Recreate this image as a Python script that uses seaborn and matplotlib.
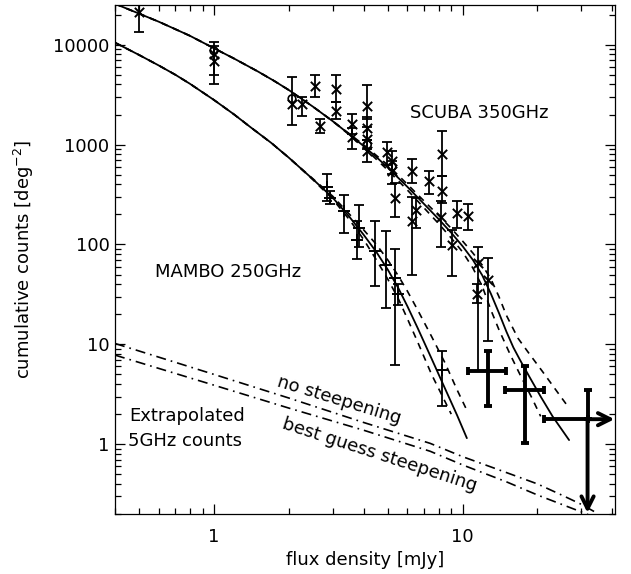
import matplotlib
matplotlib.use("Agg")
import matplotlib.pyplot as plt
import seaborn as sns

# model curves (cumulative counts vs flux density)
scuba_mod_x = [0.4, 0.5, 0.6, 0.7, 0.8, 1.0, 1.2, 1.5, 1.75, 2.0, 2.5, 3.0, 3.5, 4.0, 4.5, 5.0,
               6.0, 7.0, 8.0, 9.0, 10.0, 11.0, 12.0, 13.0, 14.0, 15.0, 16.0, 17.0, 18.5, 20.6,
               23.0, 26.8]
scuba_mod_y = [25700, 20500, 17000, 14300, 12300, 9220, 7310, 5410, 4330, 3520, 2400, 1720,
               1270, 966, 750, 589, 377, 254, 180, 131, 96, 70, 49, 32, 20.6, 13.4, 9.3, 7.0,
               4.8, 3.0, 1.9, 1.1]
scuba_hi_x = [0.4, 0.5, 0.6, 0.7, 0.8, 1.0, 1.2, 1.5, 1.75, 2.0, 2.5, 3.0, 3.5, 4.0, 5.0, 6.0,
              7.0, 8.0, 9.0, 10.0, 11.0, 12.0, 13.0, 14.0, 15.0, 16.7, 18.5, 21.0, 24.0, 26.8]
scuba_hi_y = [25700, 20500, 17000, 14300, 12300, 9220, 7310, 5410, 4330, 3520, 2400, 1725,
              1285, 995, 625, 400, 272, 196, 145, 108, 82, 62, 45, 30, 19.5, 11.5, 8.1, 5.3,
              3.35, 2.3]
scuba_lo_x = [0.4, 0.5, 0.6, 0.7, 0.8, 1.0, 1.2, 1.5, 1.75, 2.0, 2.5, 3.0, 3.5, 4.0, 5.0, 6.0,
              7.0, 8.0, 9.0, 10.0, 11.0, 12.0, 13.0, 14.0, 15.5, 17.0, 19.0, 20.6]
scuba_lo_y = [25700, 20500, 17000, 14300, 12300, 9220, 7310, 5410, 4330, 3520, 2400, 1715,
              1255, 940, 555, 350, 232, 162, 116, 84, 58, 38, 22, 14, 8.0, 5.0, 2.9, 1.9]

mambo_mod_x = [0.4, 0.5, 0.6, 0.7, 0.8, 1.0, 1.2, 1.4, 1.7, 2.0, 2.5, 3.0, 3.5, 4.0, 4.5, 5.0,
               5.5, 6.0, 6.6, 7.5, 8.5, 9.5, 10.4]
mambo_mod_y = [10500, 7900, 6200, 5000, 4070, 2800, 2020, 1500, 1040, 740, 450, 295, 190, 125,
               84, 56, 37, 24, 14.5, 7.2, 3.6, 1.95, 1.15]
mambo_hi_x = [0.4, 0.5, 0.6, 0.7, 0.8, 1.0, 1.2, 1.4, 1.7, 2.0, 2.5, 3.0, 3.5, 4.0, 4.5, 5.0,
              5.5, 6.0, 6.6, 7.5, 8.5, 9.5, 10.3]
mambo_hi_y = [10500, 7900, 6200, 5000, 4070, 2800, 2020, 1500, 1040, 740, 455, 305, 202, 140,
              100, 70, 49, 34, 22, 12, 6.5, 3.5, 2.3]
mambo_lo_x = [0.4, 0.5, 0.6, 0.7, 0.8, 1.0, 1.2, 1.4, 1.7, 2.0, 2.5, 3.0, 3.5, 4.0, 4.5, 5.0,
              5.5, 6.0, 6.6, 7.5, 8.2, 9.0]
mambo_lo_y = [10500, 7900, 6200, 5000, 4070, 2800, 2020, 1500, 1040, 740, 445, 285, 178, 112,
              70, 45, 29, 18, 10.5, 5.0, 3.2, 2.0]

# extrapolated 5GHz counts
radio_x = [0.4, 1.0, 2.0, 4.0, 7.4, 10.0, 15.0, 20.0, 25.0, 30.0, 34.0]
nosteep_y = [10.2, 5.0, 2.9, 1.65, 1.02, 0.75, 0.52, 0.40, 0.31, 0.25, 0.21]
bestguess_y = [7.8, 3.9, 2.3, 1.38, 0.85, 0.62, 0.42, 0.31, 0.25, 0.21, 0.185]

# SCUBA data points
scuba_x = [0.5, 1.0, 1.0, 2.06, 2.26, 2.55, 2.68, 3.1, 3.1, 3.6, 3.6, 4.14, 4.14, 4.14, 4.14,
           4.98, 5.2, 5.2, 5.37, 6.28, 6.28, 6.5, 7.3, 8.3, 8.3, 8.15, 9.46, 10.5, 9.1, 11.5,
           11.4, 12.6]
scuba_y = [21400, 8100, 6900, 2570, 2570, 3900, 1550, 3630, 2190, 1620, 1200, 2450, 1450, 1150,
           870, 850, 680, 540, 290, 550, 170, 220, 435, 810, 340, 190, 205, 195, 98, 65, 32, 44]
scuba_hi = [25700, 10700, 9800, 4800, 3000, 5000, 1820, 5000, 2700, 2040, 1450, 3980, 1900,
            1500, 1100, 1070, 870, 680, 410, 720, 300, 290, 550, 1380, 480, 275, 270, 255, 138,
            95, 40, 74]
scuba_lo = [13500, 5000, 4000, 1580, 1950, 3020, 1320, 2690, 1820, 1290, 910, 1820, 1100, 900,
            675, 620, 510, 400, 190, 410, 49, 145, 320, 480, 260, 95, 145, 138, 48, 5.4, 26, 10.7]
circ_x = [1.0, 2.06, 4.14, 5.2]
circ_y = [8700, 2880, 1000, 600]

# MAMBO data points
mambo_x = [2.86, 2.93, 3.34, 3.84, 3.77, 4.45, 4.94, 5.36, 5.5, 8.3]
mambo_y = [380, 295, 215, 145, 110, 87, 62, 46, 32, 5.5]
mambo_hi = [510, 340, 316, 251, 170, 170, 135, 91, 40, 8.5]
mambo_lo = [270, 255, 129, 95, 72, 38, 23, 6.2, 25, 2.4]

# thick crosses (bright end) and limit
big_x = [12.6, 17.8]
big_y = [5.4, 3.5]
big_xlo = [10.5, 14.8]
big_xhi = [14.9, 21.2]
big_ylo = [2.4, 1.02]
big_yhi = [8.5, 6.0]
lim_x, lim_y, lim_xlo, lim_yhi = 31.8, 1.78, 21.2, 3.47

sns.set_style("ticks")
plt.rcParams['font.family'] = ['DejaVu Sans']
plt.rcParams['font.size'] = 13
for key in ['text.color', 'axes.labelcolor', 'xtick.color', 'ytick.color', 'axes.edgecolor']:
    plt.rcParams[key] = 'black'

fig = plt.figure(figsize=(6.31, 5.74), dpi=100)
ax = fig.add_axes([115 / 631, 60 / 574, 500 / 631, 509 / 574])
ax.set_xscale('log')
ax.set_yscale('log')

# models
for xs, ys in [(scuba_mod_x, scuba_mod_y), (mambo_mod_x, mambo_mod_y)]:
    sns.lineplot(x=xs, y=ys, ax=ax, color='black', lw=1.3, estimator=None, sort=False)
for xs, ys in [(scuba_hi_x, scuba_hi_y), (scuba_lo_x, scuba_lo_y),
               (mambo_hi_x, mambo_hi_y), (mambo_lo_x, mambo_lo_y)]:
    sns.lineplot(x=xs, y=ys, ax=ax, color='black', lw=1.2, estimator=None, sort=False,
                 linestyle=(0, (4, 3.5)))
for ys in [nosteep_y, bestguess_y]:
    sns.lineplot(x=radio_x, y=ys, ax=ax, color='black', lw=1.2, estimator=None, sort=False,
                 linestyle=(0, (6, 3, 1, 3)))

# SCUBA points
ax.errorbar(scuba_x, scuba_y,
            yerr=[[y - l for y, l in zip(scuba_y, scuba_lo)], [h - y for y, h in zip(scuba_y, scuba_hi)]],
            fmt='none', ecolor='black', elinewidth=1.3, capsize=3.5, capthick=1.3)
sns.scatterplot(x=scuba_x, y=scuba_y, ax=ax, marker='x', color='black', s=45, linewidth=1.4)
sns.scatterplot(x=circ_x, y=circ_y, ax=ax, marker='o', facecolor='none', edgecolor='black',
                s=30, linewidth=1.2)

# MAMBO points
ax.errorbar(mambo_x, mambo_y,
            yerr=[[y - l for y, l in zip(mambo_y, mambo_lo)], [h - y for y, h in zip(mambo_y, mambo_hi)]],
            fmt='none', ecolor='black', elinewidth=1.3, capsize=3.5, capthick=1.3)
sns.scatterplot(x=mambo_x, y=mambo_y, ax=ax, marker='+', color='black', s=70, linewidth=1.4)

# bright-end thick crosses
ax.errorbar(big_x, big_y,
            xerr=[[x - l for x, l in zip(big_x, big_xlo)], [h - x for x, h in zip(big_x, big_xhi)]],
            yerr=[[y - l for y, l in zip(big_y, big_ylo)], [h - y for y, h in zip(big_y, big_yhi)]],
            fmt='none', ecolor='black', elinewidth=2.8, capsize=3, capthick=2.8)
ax.errorbar([lim_x], [lim_y], xerr=[[lim_x - lim_xlo], [0]], yerr=[[0], [lim_yhi - lim_y]],
            fmt='none', ecolor='black', elinewidth=2.8, capsize=3, capthick=2.8)
ax.annotate('', xy=(40.8, lim_y), xytext=(lim_x, lim_y),
            arrowprops=dict(arrowstyle='->', lw=2.8, color='black', mutation_scale=22,
                            shrinkA=0, shrinkB=0))
ax.annotate('', xy=(lim_x, 0.205), xytext=(lim_x, lim_y),
            arrowprops=dict(arrowstyle='->', lw=2.8, color='black', mutation_scale=22,
                            shrinkA=0, shrinkB=0))

# labels
ax.text(0.59, 0.788, 'SCUBA 350GHz', transform=ax.transAxes, va='center', ha='left')
ax.text(0.08, 0.475, 'MAMBO 250GHz', transform=ax.transAxes, va='center', ha='left')
ax.text(0.028, 0.1925, 'Extrapolated', transform=ax.transAxes, va='center', ha='left')
ax.text(0.026, 0.1434, '5GHz counts', transform=ax.transAxes, va='center', ha='left')
ax.text(0.448, 0.224, 'no steepening', transform=ax.transAxes, va='center', ha='center',
        rotation=-17, rotation_mode='anchor')
ax.text(0.53, 0.116, 'best guess steepening', transform=ax.transAxes, va='center', ha='center',
        rotation=-18, rotation_mode='anchor')

ax.set_xlim(0.4, 41)
ax.set_ylim(0.2, 25000)
ax.set_xticks([1, 10])
ax.set_xticklabels(['1', '10'])
ax.set_yticks([1, 10, 100, 1000, 10000])
ax.set_yticklabels(['1', '10', '100', '1000', '10000'])
ax.tick_params(which='both', direction='in', top=True, right=True, color='black', width=0.9)
ax.tick_params(which='major', length=7.5)
ax.tick_params(which='minor', length=4)
ax.tick_params(axis='x', which='major', pad=10)
ax.tick_params(axis='y', which='major', pad=4)
for sp in ax.spines.values():
    sp.set_linewidth(0.9)
    sp.set_color('black')

ax.set_xlabel('flux density [mJy]', labelpad=4)
ax.set_ylabel(r'cumulative counts [deg$^{-2}$]', labelpad=12)

fig.savefig('out.png', dpi=100)
